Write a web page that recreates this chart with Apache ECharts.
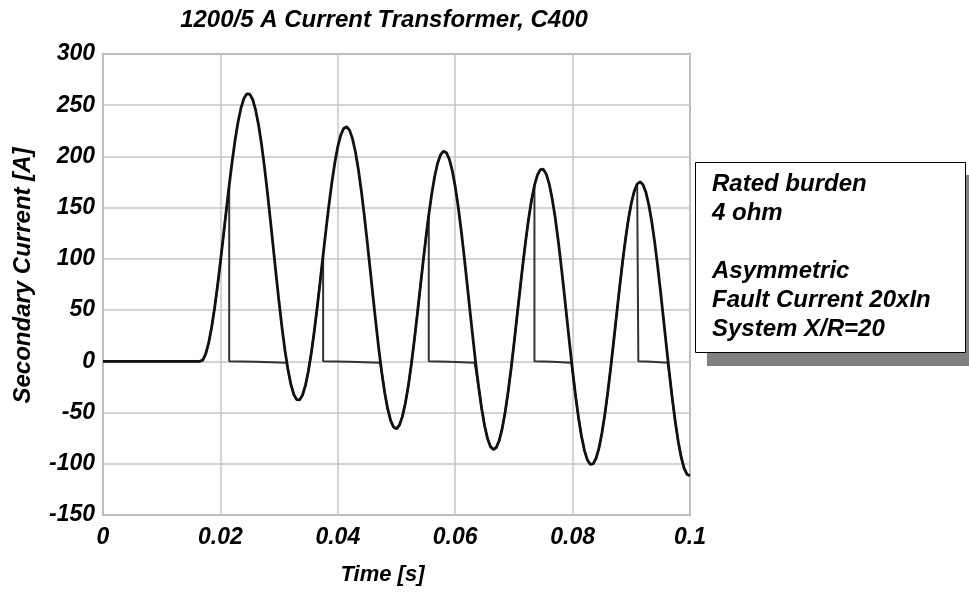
<!DOCTYPE html>
<html>
<head>
<meta charset="utf-8">
<title>1200/5 A Current Transformer, C400</title>
<script src="https://cdn.jsdelivr.net/npm/echarts@6/dist/echarts.min.js"></script>
<style>
  html, body { margin: 0; padding: 0; background: #ffffff; }
  #chart { width: 969px; height: 594px; }
</style>
</head>
<body>
<div id="chart"></div>
<script>
// Time samples (s) of the ideal (ratio) secondary current
const timeS = [
  0, 0.0165, 0.017, 0.0175, 0.018, 0.0185, 0.019, 0.0195, 0.02, 0.0205, 0.021, 0.0215,
  0.022, 0.0225, 0.023, 0.0235, 0.024, 0.0245, 0.025, 0.0255, 0.026, 0.0265, 0.027, 0.0275,
  0.028, 0.0285, 0.029, 0.0295, 0.03, 0.0305, 0.031, 0.0315, 0.032, 0.0325, 0.033, 0.0335,
  0.034, 0.0345, 0.035, 0.0355, 0.036, 0.0365, 0.037, 0.0375, 0.038, 0.0385, 0.039, 0.0395,
  0.04, 0.0405, 0.041, 0.0415, 0.042, 0.0425, 0.043, 0.0435, 0.044, 0.0445, 0.045, 0.0455,
  0.046, 0.0465, 0.047, 0.0475, 0.048, 0.0485, 0.049, 0.0495, 0.05, 0.0505, 0.051, 0.0515,
  0.052, 0.0525, 0.053, 0.0535, 0.054, 0.0545, 0.055, 0.0555, 0.056, 0.0565, 0.057, 0.0575,
  0.058, 0.0585, 0.059, 0.0595, 0.06, 0.0605, 0.061, 0.0615, 0.062, 0.0625, 0.063, 0.0635,
  0.064, 0.0645, 0.065, 0.0655, 0.066, 0.0665, 0.067, 0.0675, 0.068, 0.0685, 0.069, 0.0695,
  0.07, 0.0705, 0.071, 0.0715, 0.072, 0.0725, 0.073, 0.0735, 0.074, 0.0745, 0.075, 0.0755,
  0.076, 0.0765, 0.077, 0.0775, 0.078, 0.0785, 0.079, 0.0795, 0.08, 0.0805, 0.081, 0.0815,
  0.082, 0.0825, 0.083, 0.0835, 0.084, 0.0845, 0.085, 0.0855, 0.086, 0.0865, 0.087, 0.0875,
  0.088, 0.0885, 0.089, 0.0895, 0.09, 0.0905, 0.091, 0.0915, 0.092, 0.0925, 0.093, 0.0935,
  0.094, 0.0945, 0.095, 0.0955, 0.096, 0.0965, 0.097, 0.0975, 0.098, 0.0985, 0.099, 0.0995, 0.1
];

// Ideal secondary current (A), asymmetric fault with decaying DC offset
const idealCurrent = [
  0, 0, 1.2, 7.3, 18.0, 33.0, 51.6, 73.2, 96.9, 121.9, 147.2, 171.9,
  195.0, 215.8, 233.4, 247.1, 256.5, 261.1, 260.8, 255.6, 245.4, 230.8, 212.2, 190.1,
  165.4, 138.9, 111.4, 83.9, 57.4, 32.7, 10.7, -7.8, -22.3, -32.3, -37.4, -37.6,
  -32.8, -23.2, -9.2, 8.6, 29.7, 53.1, 78.1, 103.7, 129.1, 153.1, 175.1, 194.1,
  209.6, 220.8, 227.3, 229.0, 225.7, 217.4, 204.6, 187.5, 166.8, 143.2, 117.4, 90.4,
  63.1, 36.5, 11.4, -11.3, -30.8, -46.5, -57.7, -64.2, -65.8, -62.3, -54.0, -41.2,
  -24.4, -4.1, 18.9, 43.7, 69.5, 95.3, 120.1, 143.1, 163.4, 180.4, 193.3, 201.6,
  205.2, 203.7, 197.3, 186.2, 170.7, 151.4, 128.8, 103.9, 77.4, 50.3, 23.6, -2.0,
  -25.3, -45.8, -62.6, -75.2, -83.1, -86.1, -84.1, -77.2, -65.7, -49.9, -30.5, -8.2,
  16.3, 42.1, 68.1, 93.5, 117.4, 138.9, 157.2, 171.7, 181.8, 187.1, 187.5, 182.9,
  173.5, 159.5, 141.6, 120.2, 96.1, 70.2, 43.4, 16.5, -9.4, -33.4, -54.8, -72.7,
  -86.6, -96.0, -100.5, -100.1, -94.6, -84.5, -69.9, -51.5, -29.9, -5.9, 19.6, 45.8,
  71.7, 96.3, 118.8, 138.4, 154.3, 166.0, 173.1, 175.3, 172.4, 164.7, 152.3, 135.8,
  115.6, 92.4, 67.1, 40.6, 13.8, -12.4, -37.1, -59.3, -78.4, -93.6, -104.4, -110.4, -111.6
];

// Time samples (s) of the saturating CT secondary current (repeated times = collapse to zero)
const ctTimeS = [
  0, 0.0165, 0.017, 0.0175, 0.018, 0.0185, 0.019, 0.0195, 0.02, 0.0205, 0.021, 0.0215,
  0.0215, 0.026, 0.0313,
  0.0315, 0.032, 0.0325, 0.033, 0.0335, 0.034, 0.0345, 0.035, 0.0355, 0.036, 0.0365, 0.037, 0.0375,
  0.0375, 0.042, 0.0472,
  0.0475, 0.048, 0.0485, 0.049, 0.0495, 0.05, 0.0505, 0.051, 0.0515, 0.052, 0.0525, 0.053,
  0.0535, 0.054, 0.0545, 0.055, 0.0555,
  0.0555, 0.059, 0.0633,
  0.0635, 0.064, 0.0645, 0.065, 0.0655, 0.066, 0.0665, 0.067, 0.0675, 0.068, 0.0685, 0.069,
  0.0695, 0.07, 0.0705, 0.071, 0.0715, 0.072, 0.0725, 0.073, 0.0735,
  0.0735, 0.0765, 0.0798,
  0.08, 0.0805, 0.081, 0.0815, 0.082, 0.0825, 0.083, 0.0835, 0.084, 0.0845, 0.085, 0.0855,
  0.086, 0.0865, 0.087, 0.0875, 0.088, 0.0885, 0.089, 0.0895, 0.09, 0.0905, 0.091, 0.0912,
  0.0912, 0.0935, 0.0962,
  0.0965, 0.097, 0.0975, 0.098, 0.0985, 0.099, 0.0995, 0.1
];

// CT secondary current (A)
const ctCurrent = [
  0, 0, 1.2, 7.3, 18.0, 33.0, 51.6, 73.2, 96.9, 121.9, 147.2, 171.9,
  0, -0.5, -1.5,
  -7.8, -22.3, -32.3, -37.4, -37.6, -32.8, -23.2, -9.2, 8.6, 29.7, 53.1, 78.1, 103.7,
  0, -0.5, -1.5,
  -11.3, -30.8, -46.5, -57.7, -64.2, -65.8, -62.3, -54.0, -41.2, -24.4, -4.1, 18.9,
  43.7, 69.5, 95.3, 120.1, 143.1,
  0, -0.5, -1.5,
  -2.0, -25.3, -45.8, -62.6, -75.2, -83.1, -86.1, -84.1, -77.2, -65.7, -49.9, -30.5,
  -8.2, 16.3, 42.1, 68.1, 93.5, 117.4, 138.9, 157.2, 171.7,
  0, -0.5, -1.5,
  -9.4, -33.4, -54.8, -72.7, -86.6, -96.0, -100.5, -100.1, -94.6, -84.5, -69.9, -51.5,
  -29.9, -5.9, 19.6, 45.8, 71.7, 96.3, 118.8, 138.4, 154.3, 166.0, 173.1, 174.5,
  0, -0.5, -1.5,
  -12.4, -37.1, -59.3, -78.4, -93.6, -104.4, -110.4, -111.6
];

// Axis tick labels
const xTickLabels = ['0', '0.02', '0.04', '0.06', '0.08', '0.1'];
const yTickLabels = ['-150', '-100', '-50', '0', '50', '100', '150', '200', '250', '300'];

const chartTitle = '1200/5 A Current Transformer, C400';
const xAxisName = 'Time [s]';
const yAxisName = 'Secondary Current [A]';
const noteLines = ['Rated burden', '4 ohm', '', 'Asymmetric', 'Fault Current 20xIn', 'System X/R=20'];

const FONT = '"Liberation Sans", Arial, Helvetica, sans-serif';
const boldItalic = { fontFamily: FONT, fontWeight: 'bold', fontStyle: 'italic', color: '#000' };

const chart = echarts.init(document.getElementById('chart'), null, { renderer: 'canvas' });

const option = {
  backgroundColor: '#ffffff',
  animation: false,
  grid: {
    left: 103, right: 279, top: 54, bottom: 79,
    show: true, borderColor: '#a9a9a9', borderWidth: 2, backgroundColor: 'transparent'
  },
  xAxis: {
    type: 'value', min: 0, max: 0.1, interval: 0.02,
    axisLine: { show: false }, axisTick: { show: false },
    splitLine: { show: true, lineStyle: { color: '#c6c6c6', width: 1.5 } },
    axisLabel: Object.assign({ fontSize: 23, margin: 11,
      formatter: v => xTickLabels[Math.round(v / 0.02)] }, boldItalic),
    name: xAxisName, nameLocation: 'middle', nameGap: 60,
    nameTextStyle: Object.assign({ fontSize: 22, verticalAlign: 'middle', padding: [0, 28, 0, 0] }, boldItalic)
  },
  yAxis: {
    type: 'value', min: -150, max: 300, interval: 50,
    axisLine: { show: false }, axisTick: { show: false },
    splitLine: { show: true, lineStyle: { color: '#c6c6c6', width: 1.5 } },
    axisLabel: Object.assign({ fontSize: 23, margin: 8, padding: [4, 0, 0, 0],
      formatter: v => yTickLabels[Math.round((v + 150) / 50)] }, boldItalic),
    name: yAxisName, nameLocation: 'middle', nameGap: 80, nameRotate: 90,
    nameTextStyle: Object.assign({ fontSize: 24, verticalAlign: 'middle', padding: [0, 0, 0, 18] }, boldItalic)
  },
  series: [
    {
      name: 'CT secondary current',
      type: 'line', showSymbol: false, z: 2,
      lineStyle: { color: '#333333', width: 2 },
      data: ctTimeS.map((t, i) => [t, ctCurrent[i]])
    },
    {
      name: 'Ideal secondary current',
      type: 'line', showSymbol: false, z: 3,
      lineStyle: { color: '#111111', width: 2.8 },
      data: timeS.map((t, i) => [t, idealCurrent[i]])
    }
  ],
  graphic: [
    {
      type: 'text', x: 384, y: 8, z: 10,
      style: { text: chartTitle, x: 0, y: 0, align: 'center', verticalAlign: 'top',
        fontFamily: FONT, fontWeight: 'bold', fontStyle: 'italic', fontSize: 24, fill: '#000' }
    },
    {
      type: 'group', z: 10,
      children: [
        { type: 'rect', shape: { x: 707, y: 175, width: 270, height: 191 },
          style: { fill: '#808080' } },
        { type: 'rect', shape: { x: 695.5, y: 162.5, width: 270, height: 190 },
          style: { fill: '#ffffff', stroke: '#000', lineWidth: 1 } },
        { type: 'text', x: 712, y: 170,
          style: { text: noteLines.join('\n'), fontFamily: FONT, fontWeight: 'bold',
            fontStyle: 'italic', fontSize: 24, lineHeight: 29, fill: '#000',
            align: 'left', verticalAlign: 'top' } }
      ]
    }
  ]
};

chart.setOption(option);
</script>
</body>
</html>
